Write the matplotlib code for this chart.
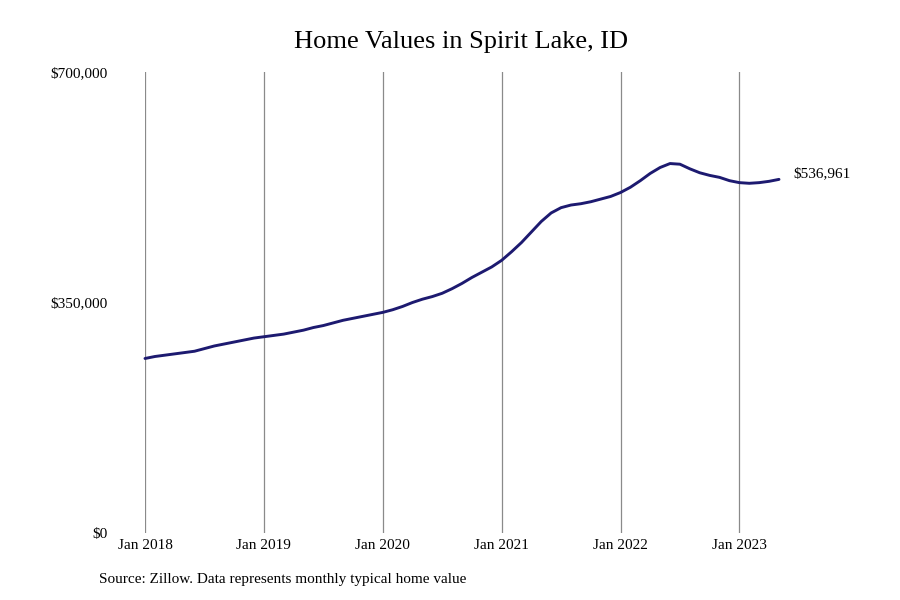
import matplotlib
matplotlib.use("Agg")
import matplotlib.pyplot as plt

# Monthly typical home value, Jan 2018 .. May 2023
values_2018 = [265000, 268000, 270000, 272000, 274000, 276000, 280000, 284000, 287000, 290000, 293000, 296000]
values_2019 = [298000, 300000, 302000, 305000, 308000, 312000, 315000, 319000, 323000, 326000, 329000, 332000]
values_2020 = [335000, 339000, 344000, 350000, 355000, 359000, 364000, 371000, 379000, 388000, 396000, 404000]
values_2021 = [414000, 427000, 441000, 457000, 473000, 486000, 494000, 498000, 500000, 503000, 507000, 511000]
values_2022 = [517000, 525000, 535000, 546000, 555000, 561000, 560000, 553000, 547000, 543000, 540000, 535000]
values_2023 = [532000, 531000, 532000, 534000, 536961]
values = values_2018 + values_2019 + values_2020 + values_2021 + values_2022 + values_2023
months = list(range(len(values)))

xtick_labels = ["Jan 2018", "Jan 2019", "Jan 2020", "Jan 2021", "Jan 2022", "Jan 2023"]
ytick_values = [0, 350000, 700000]
ytick_labels = ["$0", "$350,000", "$700,000"]
last_label = "$536,961"

plt.rcParams['font.family'] = ['Liberation Serif', 'DejaVu Serif']

fig = plt.figure(figsize=(9, 6), dpi=100)
ax = fig.add_axes([145/900, 67/600, 634/900, 461/600])
ax.plot(months, values, color="#1d1a70", linewidth=2.1, clip_on=False, solid_capstyle='round', zorder=3)
ax.set_xlim(0, 64)
ax.set_ylim(0, 700000)
ax.set_xticks([i*12 for i in range(len(xtick_labels))])
ax.set_xticklabels(xtick_labels, fontsize=11)
ax.set_yticks(ytick_values)
ax.set_yticklabels(ytick_labels, fontsize=11)
ax.tick_params(axis='y', length=0, pad=27)
ax.tick_params(axis='x', length=0, pad=4)
ax.grid(axis='x', color='#8a8a8a', linewidth=0.9)
ax.set_axisbelow(True)
for s in ax.spines.values():
    s.set_visible(False)

ax.annotate(last_label, xy=(months[-1], values[-1]), xytext=(10, 4), textcoords='offset points',
            fontsize=11, va='center', ha='left')

fig.text(461/900, 1 - 42/600, "Home Values in Spirit Lake, ID", ha='center', va='center', fontsize=19)
fig.text(99/900, 1 - 580/600, "Source: Zillow. Data represents monthly typical home value", ha='left', va='center', fontsize=11)

fig.savefig("out.png", dpi=100, facecolor='white')
